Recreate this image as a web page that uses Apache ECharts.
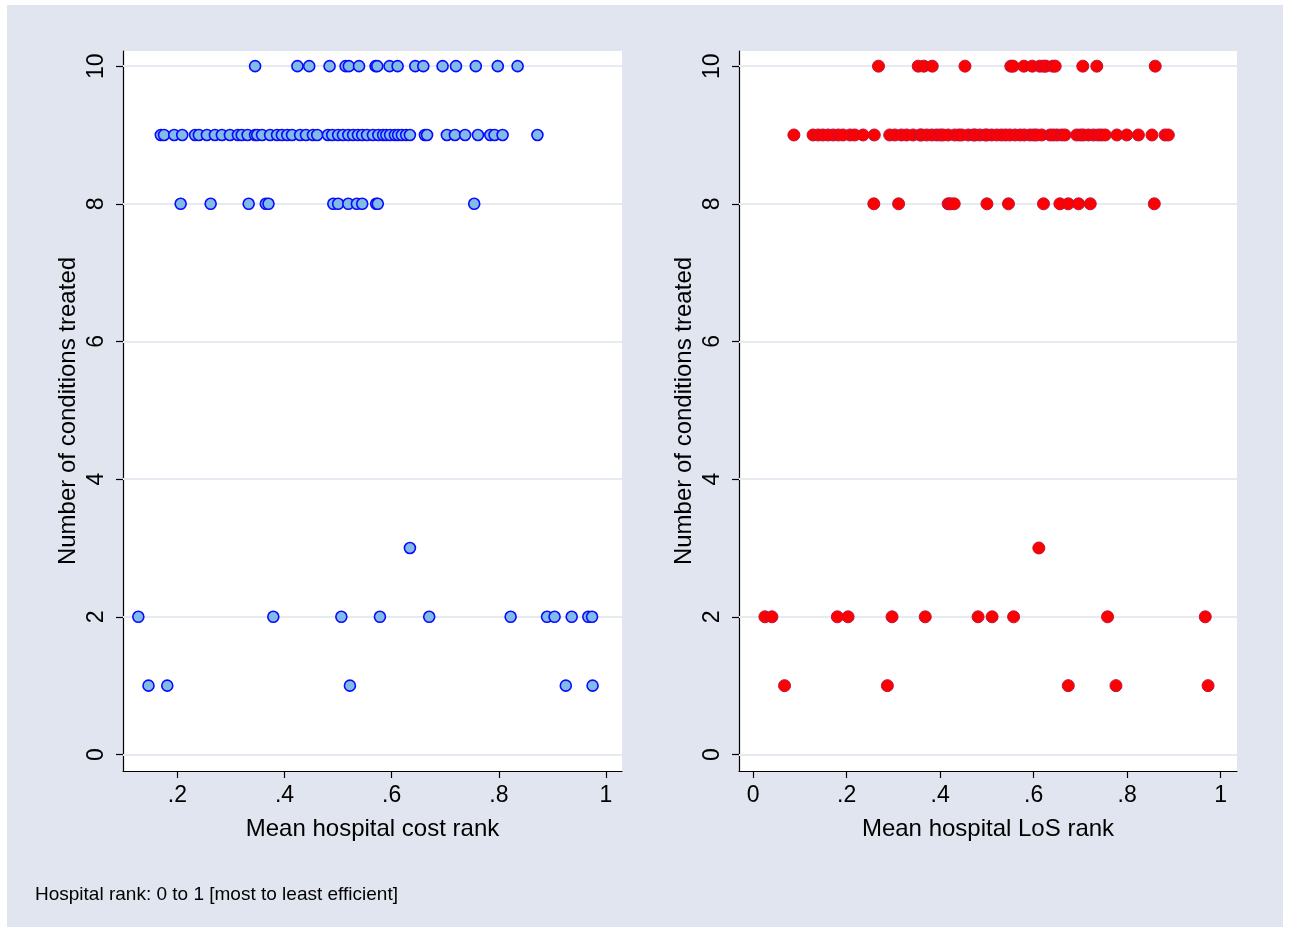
<!DOCTYPE html>
<html>
<head>
<meta charset="utf-8">
<script src="https://cdn.jsdelivr.net/npm/echarts@6/dist/echarts.min.js"></script>
<style>
html,body{margin:0;padding:0;background:#fff;}
#chart{width:1290px;height:929px;}
</style>
</head>
<body>
<div id="chart"></div>
<script>
// ---- Left panel: mean hospital cost rank, grouped by number of conditions treated ----
const costRank10 = [0.345,0.424,0.446,0.484,0.514,0.520,0.539,0.570,0.573,0.596,0.611,0.644,0.659,0.695,0.720,0.757,0.798,0.835];
const costRank9 = [0.169,0.175,0.194,0.209,0.233,0.240,0.255,0.270,0.283,0.298,0.313,0.320,0.331,0.345,0.349,0.358,0.373,0.386,0.395,0.405,0.414,0.429,0.440,0.453,0.461,0.481,0.489,0.500,0.509,0.519,0.528,0.537,0.545,0.554,0.565,0.575,0.584,0.590,0.597,0.606,0.612,0.619,0.627,0.634,0.662,0.666,0.703,0.718,0.737,0.761,0.784,0.792,0.807,0.872];
const costRank8 = [0.206,0.262,0.333,0.365,0.370,0.491,0.500,0.519,0.535,0.545,0.571,0.574,0.754];
const costRank3 = [0.634];
const costRank2 = [0.127,0.379,0.506,0.578,0.670,0.822,0.890,0.904,0.936,0.967,0.974];
const costRank1 = [0.146,0.181,0.522,0.925,0.975];

// ---- Right panel: mean hospital LoS rank ----
const losRank10 = [0.268,0.353,0.365,0.383,0.453,0.551,0.556,0.579,0.597,0.613,0.621,0.626,0.641,0.646,0.705,0.735,0.860];
const losRank9 = [0.087,0.128,0.139,0.149,0.160,0.171,0.182,0.192,0.207,0.217,0.235,0.259,0.292,0.303,0.317,0.328,0.342,0.357,0.360,0.371,0.382,0.392,0.400,0.406,0.417,0.431,0.440,0.446,0.460,0.471,0.475,0.485,0.496,0.500,0.510,0.521,0.531,0.540,0.549,0.560,0.571,0.580,0.592,0.600,0.606,0.617,0.635,0.642,0.650,0.660,0.667,0.692,0.700,0.706,0.717,0.728,0.738,0.745,0.753,0.778,0.799,0.824,0.853,0.881,0.888];
const losRank8 = [0.258,0.311,0.417,0.422,0.430,0.500,0.546,0.621,0.656,0.674,0.696,0.721,0.858];
const losRank3 = [0.611];
const losRank2 = [0.025,0.040,0.180,0.203,0.297,0.368,0.481,0.511,0.557,0.758,0.967];
const losRank1 = [0.067,0.287,0.674,0.776,0.973];

const yTicks = [0,2,4,6,8,10];
const xTicksCost = [0.2,0.4,0.6,0.8,1];
const xTicksLos = [0,0.2,0.4,0.6,0.8,1];

const xTitleCost = 'Mean hospital cost rank';
const xTitleLos = 'Mean hospital LoS rank';
const yTitle = 'Number of conditions treated';
const note = 'Hospital rank: 0 to 1 [most to least efficient]';

function toPairs(groups){
  const out = [];
  groups.forEach(([n, arr]) => arr.forEach(v => out.push([v, n])));
  return out;
}
const costData = toPairs([[10,costRank10],[9,costRank9],[8,costRank8],[3,costRank3],[2,costRank2],[1,costRank1]]);
const losData = toPairs([[10,losRank10],[9,losRank9],[8,losRank8],[3,losRank3],[2,losRank2],[1,losRank1]]);

const FONT = '"Liberation Sans", Arial, Helvetica, sans-serif';
const fmt = v => (v === 0 ? '0' : v === 1 ? '1' : String(v).replace(/^0/, ''));

function xAxis(gridIndex, min, max, ticks, name){
  return {
    type:'value', gridIndex, min, max,
    name, nameLocation:'middle', nameGap:46,
    nameTextStyle:{fontFamily:FONT, fontSize:24, color:'#000'},
    axisLine:{show:true, onZero:false, lineStyle:{color:'#000', width:1.2}},
    axisTick:{show:true, length:7, customValues:ticks, lineStyle:{color:'#000', width:1.2}},
    axisLabel:{customValues:ticks, formatter:fmt, margin:13, fontFamily:FONT, fontSize:23, color:'#000'},
    splitLine:{show:false}
  };
}
function yAxis(gridIndex){
  return {
    type:'value', gridIndex, min:-0.24, max:10.22,
    name:yTitle, nameLocation:'middle', nameGap:43, nameRotate:90,
    nameTextStyle:{fontFamily:FONT, fontSize:24, color:'#000'},
    axisLine:{show:true, onZero:false, lineStyle:{color:'#000', width:1.2}},
    axisTick:{show:true, length:7, customValues:yTicks, lineStyle:{color:'#000', width:1.2}},
    axisLabel:{customValues:yTicks, rotate:90, margin:15, fontFamily:FONT, fontSize:23, color:'#000'},
    splitLine:{show:false}
  };
}
function gridLines(){
  return {
    silent:true, symbol:'none', z:1,
    label:{show:false},
    lineStyle:{color:'#e6ebf1', width:2, type:'solid'},
    data: yTicks.map(v => ({yAxis:v}))
  };
}

const chart = echarts.init(document.getElementById('chart'), null, {renderer:'canvas'});
chart.setOption({
  animation:false,
  backgroundColor:'#ffffff',
  graphic:[
    {type:'rect', z:-10, shape:{x:7, y:5, width:1276, height:922}, style:{fill:'#e0e5ef'}},
    {type:'text', left:35, top:885, style:{text:note, fontFamily:FONT, fontSize:19, fill:'#000'}}
  ],
  grid:[
    {left:123, top:51, width:499, height:720, show:true, backgroundColor:'#fff', borderWidth:0},
    {left:739, top:51, width:498, height:720, show:true, backgroundColor:'#fff', borderWidth:0}
  ],
  xAxis:[
    xAxis(0, 0.0984, 1.0299, xTicksCost, xTitleCost),
    xAxis(1, -0.0304, 1.0349, xTicksLos, xTitleLos)
  ],
  yAxis:[yAxis(0), yAxis(1)],
  series:[
    {type:'scatter', xAxisIndex:0, yAxisIndex:0, z:3, symbol:'circle', symbolSize:11,
     itemStyle:{color:'#82bbe6', borderColor:'#0a0aff', borderWidth:1.6, opacity:1},
     data:costData, markLine:gridLines()},
    {type:'scatter', xAxisIndex:1, yAxisIndex:1, z:3, symbol:'circle', symbolSize:12,
     itemStyle:{color:'#ff0000', borderColor:'#c2103a', borderWidth:1, opacity:1},
     data:losData, markLine:gridLines()}
  ]
});
</script>
</body>
</html>
